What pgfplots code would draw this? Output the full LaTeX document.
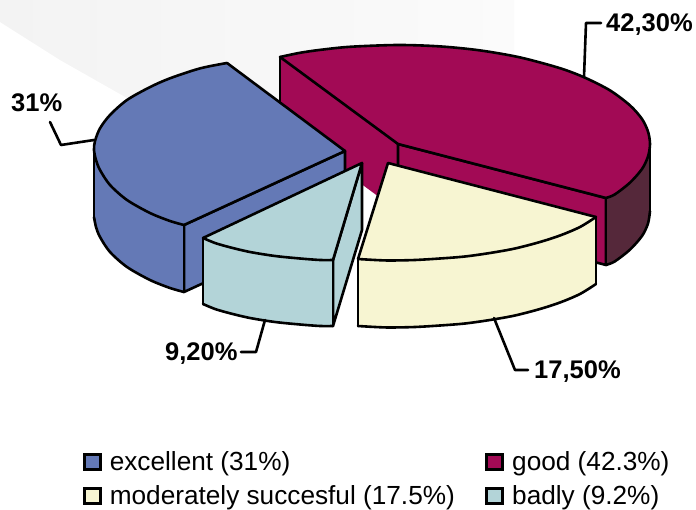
\documentclass[border=0pt]{standalone}
\usepackage{fontspec}
\setmainfont{Liberation Sans}
\usepackage{pgfplots}
\pgfplotsset{compat=1.18}
\definecolor{cblue}{HTML}{6479B6}
\definecolor{cmag}{HTML}{A20A55}
\definecolor{cdark}{HTML}{55283A}
\definecolor{ccream}{HTML}{F7F5D2}
\definecolor{cteal}{HTML}{B3D4D8}
\definecolor{gl}{HTML}{F3F3F3}
\definecolor{gr}{HTML}{FBFBFB}
\begin{document}
\begin{tikzpicture}
\begin{axis}[
  scale only axis, width=696pt, height=510pt,
  xmin=0, xmax=696, ymin=0, ymax=510, y dir=reverse,
  hide axis, clip=false, no markers,
  legend columns=2,
  legend cell align=left,
  legend style={draw=none, fill=none, at={(axis cs:83,450)}, anchor=north west,
    inner sep=0pt, outer sep=0pt,
    font=\fontsize{26.2}{28}\selectfont,
    /tikz/every even column/.append style={column sep=28.5pt},
    /tikz/row sep=9.5pt},
  legend image code/.code={\draw[#1,line width=2.6pt,line join=miter] (0pt,-7.5pt) rectangle (16pt,7.5pt);\path[draw=none,fill=none] (0pt,0pt) -- (23.5pt,0pt);},
  every axis plot/.append style={line width=2.6pt, line join=round, line cap=round},
  arc/.style={forget plot, draw=black, smooth},
  face/.style={forget plot, draw=none, fill=#1},
  edge/.style={forget plot, draw=black},
]
% background swoosh
\addplot[forget plot, draw=none, left color=gl, right color=gr]
  coordinates {(0,0)(514,0)(514,60)(300,120)(127,98)(60,60)(0,22)} -- cycle;
% good (42.3%): walls
\addplot[face=cmag] coordinates {(280,57)(398,144)(398,211)(280,124)} -- cycle;
\addplot[edge] coordinates {(280,57)(280,124)};
\addplot[edge, fill=cmag] coordinates {(398,144)(606,198)(606,265)(398,211)} -- cycle;
% good: outer rim
\addplot[face=cdark] coordinates {(650,144)(648,156.5)(642,169)(630,182.6)(615,194.3)(606,198)(606,265)(615,261.3)(630,249.6)(642,236)(648,223.5)(650,211)} -- cycle;
\addplot[arc] coordinates {(650,211)(648,223.5)(642,236)(630,249.6)(615,261.3)(606,265)};
\addplot[edge] coordinates {(650,144)(650,211)};
\addplot[edge] coordinates {(606,198)(606,265)};
% good: top
\addplot[face=cmag] coordinates {(398,144)(280,57)(300,52.8)(320,49.9)(350,46.8)(398,45)(440,46.4)(480,50.4)(520,57.4)(560,68.2)(585,77.7)(610,90.4)(630,105.4)(642,119)(648,131.5)(650,144)(648,156.5)(642,169)(630,182.6)(615,194.3)(606,198)} -- cycle;
\addplot[arc] coordinates {(280,57)(300,52.8)(320,49.9)(350,46.8)(398,45)(440,46.4)(480,50.4)(520,57.4)(560,68.2)(585,77.7)(610,90.4)(630,105.4)(642,119)(648,131.5)(650,144)(648,156.5)(642,169)(630,182.6)(615,194.3)(606,198)};
\addplot[edge] coordinates {(280,57)(398,144)(606,198)};
\addplot[edge] coordinates {(398,144)(398,211)};
% excellent (31%): cut wall
\addplot[edge, fill=cblue] coordinates {(184,225)(345,151)(345,218)(184,292)} -- cycle;
% excellent: rim
\addplot[face=cblue] coordinates {(94,150)(96,160)(100,170)(110,185)(127,200)(150,213)(170,221)(184,225)(184,292)(170,288)(150,280)(127,267)(110,252)(100,237)(96,227)(94,217)} -- cycle;
\addplot[arc] coordinates {(94,217)(96,227)(100,237)(110,252)(127,267)(150,280)(170,288)(184,292)};
\addplot[edge] coordinates {(94,150)(94,217)};
\addplot[edge] coordinates {(184,225)(184,292)};
% excellent: top
\addplot[face=cblue] coordinates {(345,151)(227,63)(200,68.4)(170,78.3)(150,87.1)(127,100)(110,115)(100,128.3)(95,141)(94,150)(96,160)(100,170)(110,185)(127,200)(150,213)(170,221)(184,225)} -- cycle;
\addplot[arc] coordinates {(227,63)(200,68.4)(170,78.3)(150,87.1)(127,100)(110,115)(100,128.3)(95,141)(94,150)(96,160)(100,170)(110,185)(127,200)(150,213)(170,221)(184,225)};
\addplot[edge] coordinates {(227,63)(345,151)(184,225)};
% moderately succesful (17.5%): rim
\addplot[face=ccream] coordinates {(596,217)(580,227)(560,235.5)(540,242)(515,248.5)(490,253)(465,256.5)(440,258.5)(415,260)(390,260.5)(375,260)(358,259)(358,326)(375,327)(390,327.5)(415,327)(440,325.5)(465,323.5)(490,320)(515,315.5)(540,309)(560,302.5)(580,294)(596,284)} -- cycle;
\addplot[arc] coordinates {(358,326)(375,327)(390,327.5)(415,327)(440,325.5)(465,323.5)(490,320)(515,315.5)(540,309)(560,302.5)(580,294)(596,284)};
\addplot[edge] coordinates {(358,259)(358,326)};
\addplot[edge] coordinates {(596,217)(596,284)};
% moderately succesful: top
\addplot[face=ccream] coordinates {(388,163)(596,217)(580,227)(560,235.5)(540,242)(515,248.5)(490,253)(465,256.5)(440,258.5)(415,260)(390,260.5)(375,260)(358,259)} -- cycle;
\addplot[arc] coordinates {(596,217)(580,227)(560,235.5)(540,242)(515,248.5)(490,253)(465,256.5)(440,258.5)(415,260)(390,260.5)(375,260)(358,259)};
\addplot[edge] coordinates {(358,259)(388,163)(596,217)};
% badly (9.2%)
\addplot[edge, fill=cteal] coordinates {(362,163)(333,260)(333,326)(362,230)} -- cycle;
\addplot[face=cteal] coordinates {(203,238)(215,243)(230,247.3)(250,252)(275,256)(300,258.5)(320,260)(333,260)(333,326)(320,326)(300,324.5)(275,322)(250,318)(230,313.3)(215,309)(203,304)} -- cycle;
\addplot[arc] coordinates {(203,304)(215,309)(230,313.3)(250,318)(275,322)(300,324.5)(320,326)(333,326)};
\addplot[edge] coordinates {(203,238)(203,304)};
\addplot[edge] coordinates {(333,260)(333,326)};
\addplot[face=cteal] coordinates {(362,163)(203,238)(215,243)(230,247.3)(250,252)(275,256)(300,258.5)(320,260)(333,260)} -- cycle;
\addplot[arc] coordinates {(203,238)(215,243)(230,247.3)(250,252)(275,256)(300,258.5)(320,260)(333,260)};
\addplot[edge] coordinates {(333,260)(362,163)(203,238)};
% leader lines
\addplot[edge] coordinates {(94,140)(61,145)(50,122)};
\addplot[edge] coordinates {(584,77)(586,23)(601,23)};
\addplot[edge] coordinates {(494,318)(515,370)(528,370)};
\addplot[edge] coordinates {(265,320)(256,352)(241,352)};
% legend
\addlegendimage{fill=cblue,draw=black}
\addlegendentry{excellent (31\%)}
\addlegendimage{fill=cmag,draw=black}
\addlegendentry{good (42.3\%)}
\addlegendimage{fill=ccream,draw=black}
\addlegendentry{moderately succesful (17.5\%)}
\addlegendimage{fill=cteal,draw=black}
\addlegendentry{badly (9.2\%)}
% labels
\node[font=\fontsize{25.5}{27}\bfseries\selectfont, anchor=base west, inner sep=0pt] at (axis cs:11,112) {31\%};
\node[font=\fontsize{25.5}{27}\bfseries\selectfont, anchor=base west, inner sep=0pt] at (axis cs:606,32) {42,30\%};
\node[font=\fontsize{25.5}{27}\bfseries\selectfont, anchor=base west, inner sep=0pt] at (axis cs:534,378) {17,50\%};
\node[font=\fontsize{25.5}{27}\bfseries\selectfont, anchor=base west, inner sep=0pt] at (axis cs:165,361) {9,20\%};
\end{axis}
\pgfresetboundingbox
\path (0,0) rectangle (696pt,510pt);
\end{tikzpicture}
\end{document}
